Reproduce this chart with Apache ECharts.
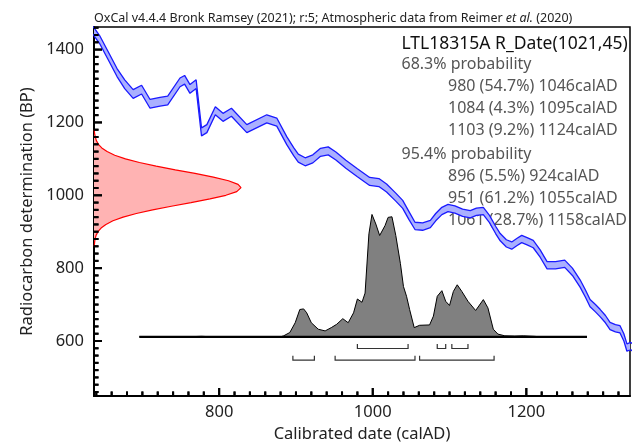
<!DOCTYPE html>
<html><head><meta charset="utf-8">
<script src="https://cdn.jsdelivr.net/npm/echarts@6/dist/echarts.min.js"></script>
<style>html,body{margin:0;padding:0;background:#fff}#c{width:632px;height:448px}</style>
</head><body><div id="c"></div>
<script>
// ---- calibration curve (IntCal20): year AD, BP, 1-sigma
const calYears = [630, 645, 655, 667, 677, 688, 699, 710, 723, 733, 749, 755, 762, 770, 777, 784, 795, 805, 816, 836, 862, 875, 888, 897, 903, 912, 922, 932, 942, 952, 965, 980, 996, 1008, 1018, 1030, 1039, 1047, 1055, 1065, 1075, 1082, 1090, 1098, 1107, 1117, 1127, 1135, 1144, 1152, 1160, 1166, 1174, 1181, 1188, 1194, 1201, 1209, 1218, 1227, 1238, 1250, 1260, 1270, 1277, 1283, 1290, 1296, 1303, 1309, 1316, 1322, 1327, 1331, 1336, 1340];
const calBP = [1470, 1425, 1385, 1337, 1305, 1278, 1290, 1251, 1257, 1260, 1310, 1317, 1292, 1305, 1174, 1183, 1232, 1214, 1228, 1183, 1210, 1201, 1150, 1120, 1102, 1092, 1100, 1118, 1122, 1108, 1085, 1062, 1038, 1035, 1020, 995, 975, 945, 916, 914, 921, 940, 957, 965, 961, 952, 948, 955, 957, 935, 905, 885, 868, 862, 872, 880, 874, 866, 840, 808, 808, 812, 790, 758, 730, 704, 690, 677, 660, 641, 635, 632, 610, 582, 586, 580];
const calSigma = [11, 11, 11, 11, 12, 12, 12, 12, 12, 12, 12, 12, 12, 12, 11, 11, 11, 11, 11, 11, 11, 11, 11, 11, 11, 11, 11, 11, 11, 11, 11, 11, 11, 11, 11, 11, 11, 11, 10, 10, 10, 10, 10, 10, 10, 10, 10, 10, 10, 10, 10, 10, 10, 10, 10, 10, 10, 10, 10, 10, 10, 10, 10, 10, 10, 10, 10, 10, 10, 10, 10, 10, 10, 10, 10, 10];

// ---- radiocarbon date R_Date(1021,45): BP and relative probability
const dateBP = [1180, 1170, 1160, 1150, 1140, 1130, 1120, 1110, 1100, 1090, 1080, 1070, 1060, 1050, 1040, 1030, 1021, 1010, 1000, 990, 980, 970, 960, 950, 940, 930, 920, 910, 900, 890, 880, 870, 860];
const dateDensity = [0.002, 0.004, 0.009, 0.016, 0.030, 0.053, 0.089, 0.141, 0.214, 0.309, 0.423, 0.553, 0.687, 0.812, 0.915, 0.980, 1.000, 0.971, 0.897, 0.789, 0.660, 0.526, 0.399, 0.288, 0.198, 0.129, 0.081, 0.048, 0.027, 0.014, 0.007, 0.004, 0.002];

// ---- calibrated date distribution: year AD and relative probability
const postYears = [696, 760, 777, 790, 880, 884, 892, 899, 905, 910, 914, 920, 929, 938, 946, 953, 961, 968, 975, 980, 986, 990, 995, 999, 1004, 1009, 1016, 1020, 1025, 1030, 1036, 1040, 1044, 1048, 1054, 1061, 1074, 1079, 1084, 1090, 1095, 1100, 1105, 1110, 1116, 1124, 1134, 1144, 1150, 1157, 1163, 1172, 1185, 1196, 1210, 1218, 1279];
const postDensity = [0, 0, 0.004, 0, 0, 0.008, 0.035, 0.115, 0.223, 0.228, 0.196, 0.115, 0.062, 0.048, 0.075, 0.102, 0.148, 0.115, 0.196, 0.309, 0.282, 0.357, 0.841, 1.0, 0.922, 0.828, 0.909, 0.976, 0.981, 0.828, 0.599, 0.411, 0.331, 0.223, 0.075, 0.094, 0.097, 0.169, 0.331, 0.377, 0.290, 0.256, 0.371, 0.425, 0.371, 0.290, 0.215, 0.304, 0.236, 0.062, 0.022, 0.008, 0.006, 0.008, 0.004, 0, 0];

// ---- ranges
const ranges68 = [[980, 1046], [1084, 1095], [1103, 1124]];
const pct68 = [54.7, 4.3, 9.2];
const ranges95 = [[896, 924], [951, 1055], [1061, 1158]];
const pct95 = [5.5, 61.2, 28.7];

// ---- axes / labels
const xMajorTicks = [800, 1000, 1200];
const yMajorTicks = [600, 800, 1000, 1200, 1400];
const xMin = 637, xMax = 1335, yMin = 449, yMax = 1462;
const sampleTitle = 'LTL18315A R_Date(1021,45)';
const headerParts = ['OxCal v4.4.4 Bronk Ramsey (2021); r:5; Atmospheric data from Reimer ', 'et al.', ' (2020)'];
const xName = 'Calibrated date (calAD)';
const yName = 'Radiocarbon determination (BP)';

function range(a, b, s) { const r = []; for (let v = a; v <= b; v += s) r.push(v); return r; }
const xMinorTicks = range(640, 1320, 20).filter(v => xMajorTicks.indexOf(v) < 0);
const yMinorTicks = range(460, 1460, 20).filter(v => yMajorTicks.indexOf(v) < 0);

const FONT = '"Noto Sans", "Open Sans", sans-serif';
const chart = echarts.init(document.getElementById('c'), null, {renderer: 'canvas'});

const upperEdge = calYears.map((y, i) => [y, calBP[i] + calSigma[i]]);
const lowerEdge = calYears.map((y, i) => [y, calBP[i] - calSigma[i]]);
const dateLine = dateBP.map((b, i) => [dateDensity[i], b]);
const postLine = postYears.map((y, i) => [y, postDensity[i]]);
const bracketData = ranges68.map(r => [r[0], r[1], 0]).concat(ranges95.map(r => [r[0], r[1], 1]));

const textLines = [];
const lx = 401.5, ix = 448, fs = 16;
textLines.push({type: 'text', x: lx, y: 44, style: {text: sampleTitle, fontSize: 17.5, fontFamily: FONT, fill: '#111', verticalAlign: 'middle'}});
textLines.push({type: 'text', x: lx, y: 64, style: {text: '68.3% probability', fontSize: fs, fontFamily: FONT, fill: '#555', verticalAlign: 'middle'}});
ranges68.forEach((r, i) => textLines.push({type: 'text', x: ix, y: 86 + i * 22, style: {text: r[0] + ' (' + pct68[i] + '%) ' + r[1] + 'calAD', fontSize: fs, fontFamily: FONT, fill: '#555', verticalAlign: 'middle'}}));
textLines.push({type: 'text', x: lx, y: 154, style: {text: '95.4% probability', fontSize: fs, fontFamily: FONT, fill: '#555', verticalAlign: 'middle'}});
ranges95.forEach((r, i) => textLines.push({type: 'text', x: ix, y: 176 + i * 22, style: {text: r[0] + ' (' + pct95[i] + '%) ' + r[1] + 'calAD', fontSize: fs, fontFamily: FONT, fill: '#555', verticalAlign: 'middle'}}));
textLines.push({type: 'text', x: 94, y: 18, style: {text: headerParts[0] + '{i|' + headerParts[1] + '}' + headerParts[2], fontSize: 12.5, fontFamily: FONT, fill: '#222', verticalAlign: 'middle', rich: {i: {fontStyle: 'italic', fontSize: 12.5, fontFamily: FONT, fill: '#222'}}}});

function tickSeries(data, isX, len) {
  return {type: 'custom', silent: true, z: 6, data: data,
    renderItem: function (params, api) {
      const p = api.coord([api.value(0), api.value(1)]);
      const pts = isX ? [[p[0], p[1]], [p[0], p[1] - len]] : [[p[0], p[1]], [p[0] + len, p[1]]];
      return {type: 'polyline', shape: {points: pts}, style: {stroke: '#000', lineWidth: 2, fill: null}};
    }};
}

const plain = v => String(v);
const axisCommon = {type: 'value', splitLine: {show: false}};
chart.setOption({
  animation: false,
  grid: {left: 94, top: 27, right: 2, bottom: 47, show: true, borderColor: '#000', borderWidth: 1.5, backgroundColor: 'transparent'},
  xAxis: [
    Object.assign({}, axisCommon, {min: xMin, max: xMax, position: 'bottom',
      axisLine: {show: true, onZero: false, lineStyle: {color: '#000', width: 2}},
      axisTick: {show: false},
      axisLabel: {show: true, customValues: xMajorTicks, formatter: plain, fontSize: 16.5, fontFamily: FONT, color: '#222', margin: 8},
      name: xName, nameLocation: 'middle', nameGap: 30, nameTextStyle: {fontSize: 16.5, fontFamily: FONT, color: '#222'}}),
    Object.assign({}, axisCommon, {min: 0, max: 3.646, show: false, axisLine: {onZero: false}})
  ],
  yAxis: [
    Object.assign({}, axisCommon, {min: yMin, max: yMax, position: 'left',
      axisLine: {show: true, onZero: false, lineStyle: {color: '#000', width: 2}},
      axisTick: {show: false},
      axisLabel: {show: true, customValues: yMajorTicks, formatter: plain, fontSize: 16.5, fontFamily: FONT, color: '#222', margin: 10},
      name: yName, nameLocation: 'middle', nameGap: 44, nameTextStyle: {fontSize: 16.5, fontFamily: FONT, color: '#222'}}),
    Object.assign({}, axisCommon, {min: -0.4839, max: 2.532, show: false, axisLine: {onZero: false}})
  ],
  series: [
    {type: 'custom', xAxisIndex: 0, yAxisIndex: 0, clip: true, silent: true, z: 2,
      data: [[calYears[0], calBP[0]]],
      renderItem: function (params, api) {
        const pts = upperEdge.map(p => api.coord(p)).concat(lowerEdge.slice().reverse().map(p => api.coord(p)));
        return {type: 'polygon', shape: {points: pts}, style: {fill: '#aab0ff', stroke: null}};
      }},
    {type: 'line', xAxisIndex: 0, yAxisIndex: 0, data: upperEdge, showSymbol: false, symbol: 'none', clip: true, z: 3,
      lineStyle: {color: '#1a1aff', width: 1.3}},
    {type: 'line', xAxisIndex: 0, yAxisIndex: 0, data: lowerEdge, showSymbol: false, symbol: 'none', clip: true, z: 3,
      lineStyle: {color: '#1a1aff', width: 1.3}},
    {type: 'custom', xAxisIndex: 1, yAxisIndex: 0, clip: true, silent: true, z: 2,
      data: [[0, dateBP[0]]],
      renderItem: function (params, api) {
        const pts = [api.coord([0, dateBP[0]])].concat(dateLine.map(p => api.coord(p)), [api.coord([0, dateBP[dateBP.length - 1]])]);
        return {type: 'polygon', shape: {points: pts}, style: {fill: '#ffb3b3', stroke: null}};
      }},
    {type: 'line', xAxisIndex: 1, yAxisIndex: 0, data: dateLine, showSymbol: false, symbol: 'none', z: 3,
      lineStyle: {color: '#ff0000', width: 1.2}},
    {type: 'line', xAxisIndex: 0, yAxisIndex: 1, data: postLine, showSymbol: false, symbol: 'none', z: 4,
      lineStyle: {color: '#000', width: 1}, areaStyle: {color: '#808080', opacity: 1, origin: 'auto'}},
    {type: 'line', xAxisIndex: 0, yAxisIndex: 1, data: [[postYears[0], 0], [postYears[postYears.length - 1], 0]], showSymbol: false, symbol: 'none', z: 5,
      lineStyle: {color: '#000', width: 2.2}},
    {type: 'custom', xAxisIndex: 0, yAxisIndex: 1, silent: true, z: 5,
      data: bracketData,
      renderItem: function (params, api) {
        const s = api.coord([api.value(0), 0]);
        const e = api.coord([api.value(1), 0]);
        const row = api.value(2);
        const yl = s[1] + (row ? 23.3 : 11.7);
        const yt = s[1] + (row ? 19 : 7.3);
        return {type: 'polyline', shape: {points: [[s[0], yt], [s[0], yl], [e[0], yl], [e[0], yt]]}, style: {stroke: '#333', lineWidth: 1.2, fill: null}};
      }},
    tickSeries(xMajorTicks.map(v => [v, yMin]), true, 8),
    tickSeries(xMinorTicks.map(v => [v, yMin]), true, 4.5),
    tickSeries(yMajorTicks.map(v => [xMin, v]), false, 8),
    tickSeries(yMinorTicks.map(v => [xMin, v]), false, 4.5)
  ]
});

// same ticks again as graphic lines, placed through the axes' own scales
const tickEls = [];
try {
  const addTick = (x, y, isX, len) => {
    const p = chart.convertToPixel({xAxisIndex: 0, yAxisIndex: 0}, [x, y]);
    if (p && isFinite(p[0]) && isFinite(p[1])) {
      tickEls.push({type: 'line', z: 100, silent: true,
        shape: isX ? {x1: p[0], y1: p[1], x2: p[0], y2: p[1] - len} : {x1: p[0], y1: p[1], x2: p[0] + len, y2: p[1]},
        style: {stroke: '#000', lineWidth: 2}});
    }
  };
  xMajorTicks.forEach(v => addTick(v, yMin, true, 8));
  xMinorTicks.forEach(v => addTick(v, yMin, true, 4.5));
  yMajorTicks.forEach(v => addTick(xMin, v, false, 8));
  yMinorTicks.forEach(v => addTick(xMin, v, false, 4.5));
} catch (e) { /* keep text even if tick placement fails */ }
chart.setOption({graphic: textLines.concat(tickEls)});
</script>
</body></html>
